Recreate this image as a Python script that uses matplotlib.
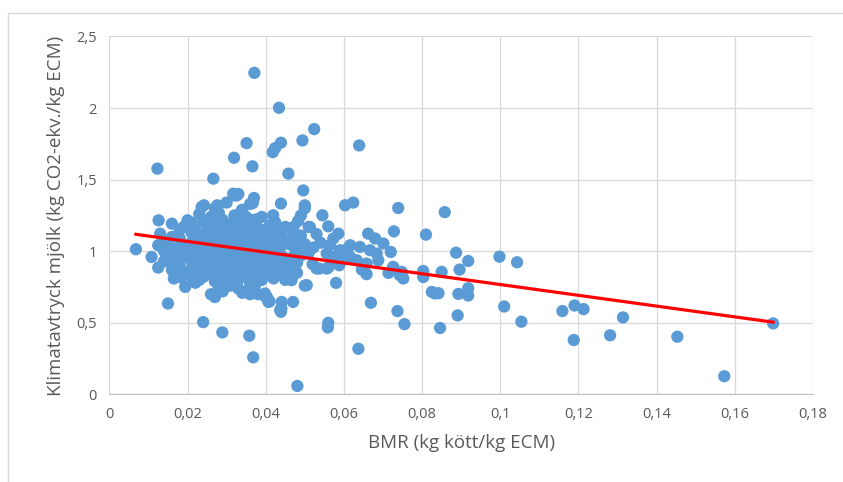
import matplotlib
matplotlib.use('Agg')
from matplotlib import pyplot as plt
from matplotlib.ticker import FuncFormatter, MultipleLocator
from matplotlib.patches import Rectangle
import numpy as np

plt.rcParams['font.family'] = ['Open Sans', 'DejaVu Sans']

# spridda punkter, (BMR, klimatavtryck)
ovre = [(0.0371, 2.246), (0.0434, 2.002), (0.0524, 1.853), (0.0639, 1.739), (0.0494, 1.774),
        (0.0439, 1.758), (0.0424, 1.72), (0.0418, 1.692), (0.0351, 1.755), (0.0319, 1.653),
        (0.0366, 1.593), (0.0266, 1.507), (0.0458, 1.542), (0.0123, 1.577), (0.0496, 1.425),
        (0.0317, 1.402), (0.0326, 1.39), (0.037, 1.372), (0.0367, 1.337), (0.0603, 1.321),
        (0.0624, 1.34), (0.0739, 1.302), (0.0858, 1.273), (0.0439, 1.333), (0.0500, 1.321),
        (0.0545, 1.251), (0.0236, 1.309), (0.0242, 1.321), (0.0276, 1.321), (0.0339, 1.286),
        (0.0279, 1.251), (0.0419, 1.251), (0.0424, 1.204), (0.0126, 1.216), (0.016, 1.193),
        (0.02, 1.216), (0.0379, 1.223), (0.0219, 1.146), (0.013, 1.123), (0.0068, 1.014),
        (0.0125, 1.042), (0.0108, 0.96), (0.0125, 0.886), (0.0172, 0.907), (0.0181, 1.042),
        (0.0151, 1.007), (0.0394, 1.135), (0.0415, 1.10)]

mitten = [(0.0483, 1.211), (0.0471, 1.169), (0.056, 1.174), (0.0513, 1.169), (0.0586, 1.123),
          (0.0573, 1.089), (0.0564, 1.042), (0.0662, 1.123), (0.068, 1.089), (0.0701, 1.054),
          (0.0728, 1.139), (0.081, 1.116), (0.072, 0.995), (0.0887, 0.990), (0.0454, 1.077),
          (0.0475, 1.019), (0.0522, 1.026), (0.059, 1.007), (0.0616, 1.042), (0.0641, 1.03),
          (0.0667, 1.007), (0.0684, 0.984), (0.0616, 0.96), (0.0633, 0.937), (0.0658, 0.914),
          (0.0688, 0.937), (0.0726, 0.891), (0.0748, 0.856), (0.0803, 0.862), (0.085, 0.856),
          (0.0896, 0.872), (0.0556, 0.984), (0.0582, 0.914), (0.059, 0.96), (0.0537, 0.879),
          (0.0556, 0.879)]

hoger = [(0.0918, 0.932), (0.0998, 0.962), (0.1043, 0.923), (0.0842, 0.707), (0.0918, 0.742),
         (0.0918, 0.691), (0.0893, 0.702), (0.0891, 0.552), (0.0846, 0.464), (0.101, 0.614),
         (0.1054, 0.508), (0.1159, 0.582), (0.119, 0.621), (0.1213, 0.596), (0.1188, 0.380),
         (0.1281, 0.413), (0.1314, 0.538), (0.1453, 0.403), (0.1573, 0.127), (0.1698, 0.496)]

nedre = [(0.0481, 0.059), (0.0637, 0.319), (0.056, 0.50), (0.0559, 0.468), (0.0669, 0.64),
         (0.0737, 0.582), (0.0755, 0.491), (0.0825, 0.716), (0.0833, 0.705), (0.0803, 0.82),
         (0.0726, 0.886), (0.0743, 0.833), (0.0752, 0.81), (0.0714, 0.849), (0.0646, 0.872),
         (0.0658, 0.84), (0.0505, 0.763), (0.058, 0.779), (0.047, 0.646), (0.0441, 0.646),
         (0.0439, 0.577), (0.0403, 0.681), (0.0407, 0.646), (0.0466, 0.798), (0.047, 0.833),
         (0.056, 0.886), (0.0588, 0.902), (0.0165, 0.81), (0.0183, 0.817), (0.0194, 0.751),
         (0.015, 0.635), (0.024, 0.505), (0.0289, 0.433), (0.0358, 0.41), (0.0368, 0.259),
         (0.0266, 0.693), (0.0351, 0.716), (0.0373, 0.763), (0.0398, 0.705), (0.0437, 0.589)]

# täta klustret, kolumnvis: BMR -> klimatavtryck
kluster = {
    0.014: [1.07, 1.00, 0.93],
    0.016: [1.10, 1.02, 0.95, 0.87],
    0.018: [1.15, 1.09, 0.98, 0.90, 0.84],
    0.019: [1.17, 1.04, 0.96, 0.86],
    0.021: [1.20, 1.13, 1.06, 0.98, 0.93, 0.87, 0.82],
    0.022: [1.15, 1.01, 0.95, 0.90, 0.84, 0.78],
    0.023: [1.26, 1.10, 1.04, 0.97, 0.88, 0.80],
    0.024: [1.21, 1.12, 1.00, 0.92, 0.85, 0.82],
    0.025: [1.18, 1.07, 0.99, 0.94, 0.89, 0.84],
    0.026: [1.24, 1.15, 1.09, 1.02, 0.96, 0.90, 0.70],
    0.027: [1.30, 1.20, 1.11, 1.05, 0.98, 0.93, 0.86, 0.79, 0.68],
    0.028: [1.27, 1.16, 1.08, 1.01, 0.95, 0.88, 0.83, 0.75],
    0.029: [1.22, 1.13, 1.04, 0.97, 0.91, 0.85, 0.80, 0.72],
    0.030: [1.34, 1.18, 1.10, 1.03, 0.99, 0.93, 0.87, 0.78],
    0.031: [1.19, 1.12, 1.06, 1.00, 0.94, 0.89, 0.82, 0.76],
    0.032: [1.39, 1.25, 1.15, 1.08, 1.02, 0.96, 0.90, 0.84, 0.79],
    0.033: [1.40, 1.17, 1.11, 1.05, 0.98, 0.92, 0.86, 0.80, 0.74],
    0.034: [1.29, 1.21, 1.13, 1.07, 1.00, 0.94, 0.88, 0.71],
    0.035: [1.24, 1.16, 1.09, 1.02, 0.96, 0.90, 0.83, 0.72],
    0.036: [1.33, 1.19, 1.11, 1.04, 0.98, 0.92, 0.86, 0.78, 0.70],
    0.037: [1.22, 1.14, 1.06, 1.00, 0.94, 0.88, 0.82, 0.76],
    0.038: [1.16, 1.09, 1.03, 0.96, 0.90, 0.84, 0.70],
    0.039: [1.24, 1.12, 1.05, 0.98, 0.92, 0.87, 0.80],
    0.040: [1.15, 1.08, 1.01, 0.95, 0.89, 0.68],
    0.041: [1.18, 1.10, 1.03, 0.97, 0.91, 0.85, 0.65],
    0.042: [1.13, 1.06, 0.99, 0.93, 0.87, 0.81],
    0.043: [1.16, 1.08, 1.00, 0.94, 0.88],
    0.044: [1.12, 1.04, 0.97, 0.90, 0.84, 0.60],
    0.045: [1.17, 0.95, 0.89, 0.80],
    0.046: [1.05, 0.91, 0.86],
    0.047: [1.14, 0.96],
    0.048: [1.07, 0.92, 0.85],
    0.049: [1.25, 1.11, 0.97],
    0.050: [1.30, 1.05, 0.76],
    0.051: [1.17, 0.99],
    0.052: [0.91],
    0.053: [1.12, 0.88],
    0.054: [1.06],
    0.057: [0.96],
    0.059: [0.92],
    0.061: [1.02],
}

# trendlinje (linjär), avläst: y = k*x + m
trend_k = -3.765
trend_m = 1.144

punkter = ovre + mitten + hoger + nedre
for bx, ys in kluster.items():
    punkter += [(bx, y) for y in ys]
bmr = np.array([p[0] for p in punkter])
klimat = np.array([p[1] for p in punkter])

fig = plt.figure(figsize=(8.43, 4.82), dpi=100)
fig.patches.append(Rectangle((7.5 / 843, -0.1), 1.2, 1 - 12.7 / 482 + 0.1,
                             transform=fig.transFigure, fill=False,
                             edgecolor='#d9d9d9', linewidth=1))
ax = fig.add_axes([0.1297, 0.1817, 0.8347, 0.7426])

ax.scatter(bmr, klimat, s=78, color='#5b9bd5', edgecolors='none', zorder=3)
tx = np.array([bmr.min(), bmr.max()])
ax.plot(tx, trend_k * tx + trend_m, color='#ff0000', linewidth=2.3, zorder=4)

ax.set_xlim(0, 0.18)
ax.set_ylim(0, 2.5)
ax.xaxis.set_major_locator(MultipleLocator(0.02))
ax.yaxis.set_major_locator(MultipleLocator(0.5))
fmt = FuncFormatter(lambda v, p: ('%g' % round(v, 3)).replace('.', ','))
ax.xaxis.set_major_formatter(fmt)
ax.yaxis.set_major_formatter(fmt)
ax.grid(True, color='#d9d9d9', linewidth=0.9, zorder=0)
ax.set_axisbelow(True)
for s in ['top', 'right', 'left']:
    ax.spines[s].set_visible(False)
ax.spines['bottom'].set_color('#bfbfbf')
ax.tick_params(length=0, labelsize=10.5, labelcolor='#595959', pad=9)

ax.set_xlabel('BMR (kg kött/kg ECM)', fontsize=13.5, color='#595959', labelpad=9)
ax.set_ylabel('Klimatavtryck mjölk (kg CO2-ekv./kg ECM)', fontsize=13.5,
              color='#595959', labelpad=8)

plt.savefig('out.png', dpi=100)
plt.close()
